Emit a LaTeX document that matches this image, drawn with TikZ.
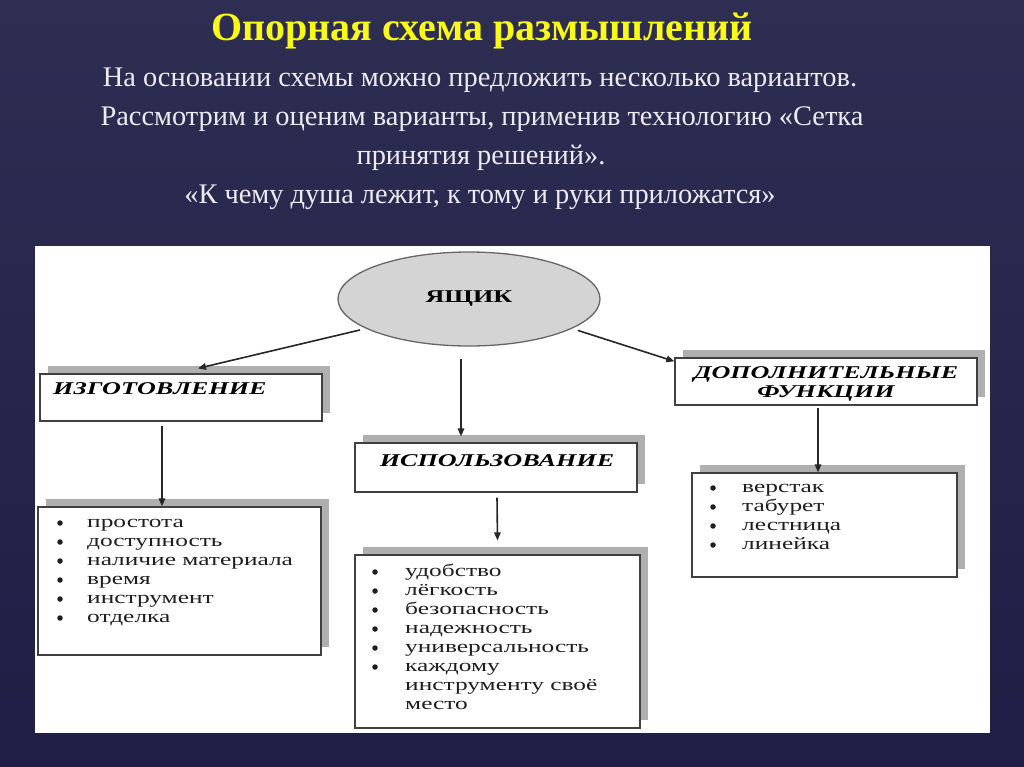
\documentclass[tikz,border=0pt]{standalone}
\usepackage{fontspec}
\setmainfont{Liberation Serif}
\usetikzlibrary{arrows.meta,shadows,calc,shapes.geometric}
\definecolor{bgtop}{RGB}{46,45,82}
\definecolor{bgbot}{RGB}{30,30,70}
\definecolor{ttl}{RGB}{250,250,20}
\definecolor{bodytxt}{RGB}{236,236,242}
\definecolor{shd}{RGB}{175,175,175}
\definecolor{ellfill}{RGB}{212,212,212}
\definecolor{lsttxt}{RGB}{30,30,30}
\newcommand{\hx}[1]{\scalebox{1.45}[1]{#1}}
\newcommand{\lx}[1]{\scalebox{1.45}[1]{#1}}
\begin{document}
\begin{tikzpicture}[x=1pt,y=-1pt,
  hbox/.style={draw=black!75, line width=1.3pt, fill=white, rectangle, inner sep=0pt,
    drop shadow={shadow xshift=8pt, shadow yshift=8pt, fill=shd, opacity=1}},
  htext/.style={inner sep=0pt, font=\fontsize{18}{19}\selectfont\bfseries\itshape, text=black},
  ltext/.style={inner sep=0pt, anchor=base west, font=\fontsize{17.5}{19}\selectfont, text=lsttxt},
  dot/.style={circle, fill=lsttxt, inner sep=0pt, minimum size=5.5pt},
  conn/.style={draw=black!85, line width=1.6pt, -{Triangle[length=8pt,width=6.5pt]}},
  body/.style={inner sep=0pt, anchor=base, text=bodytxt, font=\fontsize{28.4}{32}\selectfont}
]
\useasboundingbox (0,0) rectangle (1024,767);
\shade[top color=bgtop, bottom color=bgbot] (0,0) rectangle (1024,767);

% title and body
\node[inner sep=0pt, anchor=base, text=ttl, font=\fontsize{40}{44}\selectfont\bfseries] (title) at (482,41) {Опорная схема размышлений};
\node[body] (l1) at (480,87) {На основании схемы можно предложить несколько вариантов.};
\node[body] (l2) at (482,126) {Рассмотрим и оценим варианты, применив технологию «Сетка};
\node[body] (l3) at (481,165) {принятия решений».};
\node[body] (l4) at (480,204) {«К чему душа лежит, к тому и руки приложатся»};

% panel
\node[fill=white, inner sep=0pt, minimum width=955pt, minimum height=487pt] (panel) at (512.5,489.5) {};

% ellipse
\node[ellipse, draw=black!60, line width=1.3pt, fill=ellfill, minimum width=262pt, minimum height=94pt, inner sep=0pt,
  font=\fontsize{18}{18}\selectfont\bfseries] (e) at (469,299) {\hx{ЯЩИК}};

% heading boxes
\node[hbox, minimum width=282pt, minimum height=47pt] (b1) at (181,397.5) {};
\node[hbox, minimum width=282pt, minimum height=49pt] (b2) at (496,467.5) {};
\node[hbox, minimum width=302pt, minimum height=47pt] (b3) at (826,381.5) {};
\node[htext, anchor=base west] (b1t) at (53,394) {\hx{ИЗГОТОВЛЕНИЕ}};
\node[htext, anchor=base] (b2t) at (497,466) {\hx{ИСПОЛЬЗОВАНИЕ}};
\node[htext, anchor=base] (b3t) at (826,378) {\hx{ДОПОЛНИТЕЛЬНЫЕ}};
\node[htext, anchor=base] (b3u) at (826,397) {\hx{ФУНКЦИИ}};

% list boxes
\node[hbox, minimum width=283pt, minimum height=148pt] (s1) at (179.5,581) {};
\node[hbox, minimum width=285pt, minimum height=173pt] (s2) at (497.5,641.5) {};
\node[hbox, minimum width=265pt, minimum height=104pt] (s3) at (824.5,525) {};

% bullets
\foreach \k in {0,...,5} \node[dot] (d1\k) at (60,{523+19*\k}) {};
\foreach \k in {0,...,5} \node[dot] (d2\k) at (375,{572+19*\k}) {};
\foreach \k in {0,...,3} \node[dot] (d3\k) at (713,{488+19*\k}) {};

\node[ltext] (s1t) at (87,527) {\begin{tabular}[t]{@{}l@{}}
\lx{простота}\\
\lx{доступность}\\
\lx{наличие материала}\\
\lx{время}\\
\lx{инструмент}\\
\lx{отделка}
\end{tabular}};
\node[ltext] (s2t) at (405,576) {\begin{tabular}[t]{@{}l@{}}
\lx{удобство}\\
\lx{лёгкость}\\
\lx{безопасность}\\
\lx{надежность}\\
\lx{универсальность}\\
\lx{каждому}\\
\lx{инструменту своё}\\
\lx{место}
\end{tabular}};
\node[ltext] (s3t) at (742,492) {\begin{tabular}[t]{@{}l@{}}
\lx{верстак}\\
\lx{табурет}\\
\lx{лестница}\\
\lx{линейка}
\end{tabular}};

% connectors
\draw[conn, shorten <=6pt] (e.196) -- ([xshift=17pt, yshift=5pt]b1.north);
\draw[conn] ([xshift=-8pt, yshift=-12pt]e.south) -- ([xshift=-35pt, yshift=6pt]b2.north);
\draw[conn, shorten <=6pt] (e.-16) -- ([yshift=-4pt]b3.north west);
\draw[conn] ([xshift=-19pt, yshift=-4pt]b1.south) -- ([xshift=-17.5pt]s1.north);
\draw[conn] ([xshift=1pt, yshift=-5pt]b2.south) -- ([yshift=14pt]s2.north);
\draw[conn] ([xshift=-8pt, yshift=-2pt]b3.south) -- ([xshift=-6.5pt]s3.north);
\end{tikzpicture}
\end{document}
